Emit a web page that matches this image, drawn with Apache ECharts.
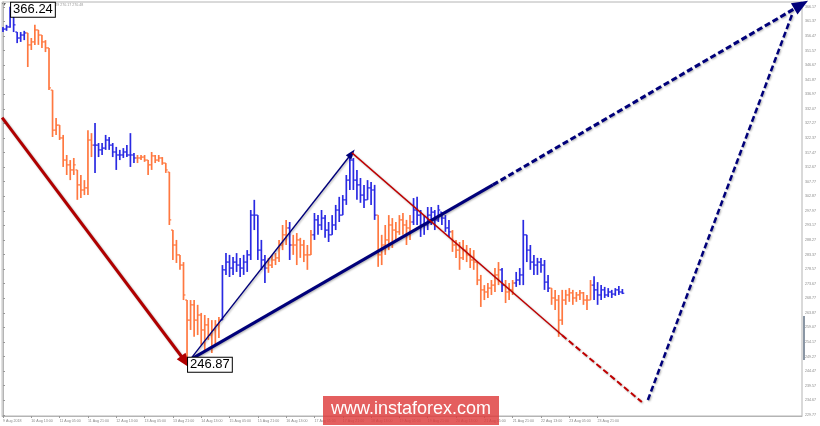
<!DOCTYPE html>
<html>
<head>
<meta charset="utf-8">
<script src="https://cdn.jsdelivr.net/npm/echarts@6/dist/echarts.min.js"></script>
<style>
html, body { margin: 0; padding: 0; background: #fff; }
#main { width: 820px; height: 426px; }
</style>
</head>
<body>
<div id="main"></div>
<script>
// 2-hour bars, hour offset from 9 Aug 2018 21:00
const highs = [
  359.5, 360.2, 366.24, 364.5, 357.8, 357.8, 358.2, 357.5, 355.8, 360.2,
  358.5, 356.8, 355.1, 352.5, 338.4, 329.1, 326.7, 323.4, 316.7, 315.0,
  315.7, 311.7, 310.0, 308.3, 325.0, 324.0, 327.4, 320.7, 320.7, 323.4,
  322.7, 320.7, 319.4, 318.4, 319.0, 320.0, 324.0, 317.4, 316.7, 316.7,
  316.7, 315.0, 317.7, 316.7, 316.7, 316.0, 314.0, 311.0, 291.6, 288.3,
  283.3, 280.9, 268.2, 268.2, 268.2, 266.6, 263.9, 263.2, 262.2, 261.5,
  261.5, 262.5, 279.9, 283.9, 283.3, 282.6, 283.9, 282.3, 283.3, 284.9,
  298.3, 301.7, 296.6, 288.3, 283.3, 282.3, 283.3, 283.9, 288.3, 293.3,
  295.0, 294.3, 290.0, 290.6, 289.0, 288.3, 286.6, 291.6, 297.3, 296.6,
  298.3, 296.6, 294.3, 296.6, 300.0, 302.7, 303.3, 310.0, 317.4, 315.7,
  311.7, 309.0, 306.7, 308.3, 307.7, 306.7, 296.6, 290.0, 293.3, 296.6,
  295.6, 294.3, 296.6, 297.3, 295.0, 296.6, 302.3, 302.7, 298.3, 296.6,
  299.3, 299.3, 298.3, 300.0, 297.6, 296.6, 295.0, 291.6, 288.3, 287.6,
  288.3, 286.6, 285.6, 284.9, 280.9, 276.6, 273.2, 273.9, 274.9, 278.9,
  280.9, 278.9, 274.9, 273.9, 274.9, 277.6, 278.9, 295.0, 290.0, 286.6,
  283.3, 282.3, 282.3, 281.6, 276.6, 272.2, 271.6, 269.9, 271.6, 271.6,
  272.2, 271.6, 270.9, 271.6, 270.9, 269.9, 274.9, 276.2, 274.2, 273.2,
  272.6, 272.2, 271.6, 272.2, 272.9, 271.9
];
const lows = [
  357.8, 358.2, 359.2, 357.8, 354.1, 354.5, 355.1, 346.1, 351.8, 353.5,
  353.5, 352.5, 351.1, 338.4, 322.7, 323.4, 321.7, 312.7, 310.0, 308.3,
  310.0, 301.7, 302.3, 303.3, 303.3, 316.0, 310.7, 316.0, 316.7, 318.4,
  318.4, 316.0, 311.7, 315.0, 315.7, 316.0, 312.7, 314.0, 314.0, 315.0,
  314.4, 310.0, 311.7, 314.0, 314.4, 313.4, 310.7, 293.3, 281.6, 280.6,
  278.3, 268.2, 246.87, 258.2, 255.9, 256.5, 253.2, 251.5, 254.9, 250.5,
  253.2, 255.5, 261.5, 276.6, 275.9, 276.6, 277.6, 275.9, 276.6, 277.6,
  281.6, 291.6, 281.6, 278.3, 273.9, 277.3, 278.9, 279.9, 280.9, 284.9,
  286.6, 281.6, 283.3, 279.9, 282.3, 280.9, 278.3, 283.3, 288.3, 290.0,
  291.6, 289.0, 287.6, 290.0, 291.6, 294.3, 296.6, 300.0, 305.0, 305.0,
  301.7, 300.7, 299.0, 301.7, 300.0, 295.0, 279.3, 279.9, 283.3, 284.9,
  285.6, 288.3, 290.0, 290.0, 286.6, 288.3, 293.3, 293.3, 289.3, 290.0,
  291.6, 293.3, 291.6, 294.3, 293.3, 291.0, 289.3, 284.3, 282.3, 278.3,
  281.6, 280.9, 278.9, 278.3, 273.2, 265.9, 268.2, 268.9, 269.9, 270.9,
  273.2, 270.9, 267.2, 268.2, 269.9, 272.6, 273.2, 273.2, 280.9, 278.3,
  276.6, 276.6, 277.3, 271.6, 270.9, 266.6, 264.9, 255.9, 259.9, 266.6,
  267.6, 266.6, 267.6, 268.2, 266.6, 264.9, 268.2, 268.2, 266.6, 268.2,
  268.9, 269.2, 268.9, 269.6, 269.9, 270.2
];
const closes = [
  358.8, 359.5, 364.5, 360.2, 355.8, 356.8, 357.5, 353.5, 354.5, 358.5,
  356.8, 354.5, 352.5, 339.1, 325.0, 326.7, 322.4, 315.0, 313.4, 311.7,
  313.4, 306.7, 305.0, 305.7, 321.7, 320.0, 320.0, 318.4, 319.0, 321.7,
  320.0, 317.7, 316.7, 316.7, 317.7, 316.7, 316.7, 315.7, 315.7, 316.0,
  315.0, 313.4, 316.4, 315.0, 315.7, 314.0, 311.7, 295.0, 286.6, 283.3,
  279.9, 269.9, 261.5, 266.6, 261.5, 263.2, 258.2, 259.9, 256.5, 258.2,
  259.9, 261.5, 278.3, 280.9, 278.9, 280.9, 279.9, 278.9, 280.9, 283.3,
  296.6, 296.6, 284.9, 281.6, 278.9, 279.9, 281.6, 282.3, 286.6, 290.0,
  292.3, 286.6, 286.6, 288.3, 286.6, 283.3, 283.3, 290.0, 295.0, 293.3,
  295.6, 291.6, 290.0, 293.3, 298.3, 296.6, 301.7, 308.3, 315.0, 308.3,
  306.7, 303.3, 301.7, 305.7, 305.0, 296.6, 283.3, 286.6, 288.3, 293.3,
  291.6, 291.0, 295.0, 293.3, 292.3, 294.3, 298.3, 296.6, 293.3, 293.3,
  296.6, 297.6, 295.0, 298.3, 295.6, 292.3, 291.0, 286.6, 284.9, 282.3,
  284.9, 283.3, 281.6, 280.9, 274.9, 271.6, 270.9, 272.2, 273.2, 276.6,
  278.3, 273.2, 270.9, 271.6, 273.9, 274.9, 276.6, 290.0, 284.9, 280.9,
  279.9, 280.9, 279.9, 274.2, 272.2, 268.9, 268.2, 261.5, 268.2, 269.9,
  270.6, 268.9, 269.9, 270.6, 268.2, 268.2, 273.2, 271.6, 269.9, 271.6,
  269.9, 270.9, 270.2, 271.6, 270.9, 270.48
];
// last bar index of each coloured wave leg, starting with an up (blue) leg
const legEnds = [6, 25, 37, 61, 74, 80, 81, 87, 105, 115, 126, 140, 141, 144, 154, 166, 175];

const timeLabels = [
  '9 Aug 2018', '10 Aug 13:00', '11 Aug 05:00', '11 Aug 21:00', '12 Aug 13:00',
  '13 Aug 05:00', '13 Aug 21:00', '14 Aug 13:00', '15 Aug 05:00', '15 Aug 21:00',
  '16 Aug 13:00', '17 Aug 05:00', '17 Aug 21:00', '18 Aug 13:00', '19 Aug 05:00',
  '19 Aug 21:00', '20 Aug 13:00', '21 Aug 05:00', '21 Aug 21:00', '22 Aug 13:00',
  '23 Aug 05:00', '23 Aug 21:00'
];
const priceTicks = [
  366.17, 361.37, 356.47, 351.57, 346.67, 341.87, 336.97, 332.07, 327.27, 322.37,
  317.47, 312.67, 307.77, 302.87, 297.97, 293.17, 288.27, 283.37, 278.57, 273.67,
  268.77, 263.87, 259.07, 254.17, 249.27, 244.47, 239.57, 234.67, 229.77
];

// wave markup: [hourFrom, priceFrom, hourTo, priceTo]
const waveA = [-0.5, 329.2, 103.2, 247.5];
const waveB = [105.6, 248.2, 197.0, 317.2];
const trendSolid = [105.6, 248.2, 276.8, 306.7];
const trendDashed = [276.8, 306.7, 451.0, 366.9];
const fallSolid = [197.2, 317.4, 315.8, 256.5];
const fallDashed = [315.8, 256.5, 361.0, 234.1];
const riseDashed = [364.4, 234.8, 445.8, 363.5];

const highLabel = 366.24;
const lowLabel = 246.87;
const lastPrice = 270.48;

const BLUE = '#2a2ae2';
const ORANGE = '#ff7840';
const HOURS_PER_BAR = 2;
const HOURS_PER_LABEL = 16;

const barColors = [];
let leg = 0;
for (let i = 0; i < closes.length; i++) {
  if (i > legEnds[leg]) leg++;
  barColors.push(leg % 2 === 0 ? BLUE : ORANGE);
}

const ohlc = closes.map((c, i) => {
  let o = i === 0 ? closes[0] : closes[i - 1];
  o = Math.min(highs[i], Math.max(lows[i], o));
  return [i * HOURS_PER_BAR, o, c, lows[i], highs[i]];
});
const highIdx = highs.indexOf(highLabel);
const lowIdx = lows.indexOf(lowLabel);

function waveLine(seg, color, width, dashed, head) {
  return {
    type: 'line',
    data: [],
    silent: true,
    markLine: {
      silent: true,
      animation: false,
      symbol: ['none', head ? 'triangle' : 'none'],
      symbolSize: head || 0,
      label: { show: false },
      emphasis: { disabled: true },
      lineStyle: {
        color: color,
        width: width,
        type: dashed ? [6, 3] : 'solid',
        opacity: 1,
        shadowColor: 'rgba(0,0,0,0.3)',
        shadowBlur: 2,
        shadowOffsetX: 1,
        shadowOffsetY: 1
      },
      data: [[{ coord: [seg[0], seg[1]] }, { coord: [seg[2], seg[3]] }]]
    }
  };
}

const boxLabel = {
  show: true,
  position: 'right',
  distance: 1,
  color: '#000',
  fontSize: 13,
  fontFamily: 'Liberation Sans, Arial',
  backgroundColor: '#fff',
  borderColor: '#000',
  borderWidth: 1,
  padding: [1, 2, 0, 2]
};

const chart = echarts.init(document.getElementById('main'));
chart.setOption({
  animation: false,
  backgroundColor: '#fff',
  grid: { left: 2, right: 18, top: 2, bottom: 10, show: true, borderColor: '#b4b4b4', borderWidth: 1 },
  xAxis: {
    type: 'value',
    min: -0.5,
    max: 451.5,
    splitLine: { show: false },
    axisLine: { show: true, lineStyle: { color: '#b4b4b4' } },
    axisTick: {
      show: true, length: 2, lineStyle: { color: '#999' },
      customValues: timeLabels.map((t, i) => i * HOURS_PER_LABEL)
    },
    axisLabel: {
      customValues: timeLabels.map((t, i) => i * HOURS_PER_LABEL),
      formatter: v => timeLabels[Math.round(v / HOURS_PER_LABEL)],
      fontSize: 3.6, color: '#888', margin: 3, align: 'left',
      fontFamily: 'Liberation Sans, Arial'
    }
  },
  yAxis: {
    type: 'value',
    position: 'right',
    min: 229.44,
    max: 367.84,
    splitLine: { show: false },
    axisLine: { show: true, lineStyle: { color: '#b4b4b4' } },
    axisTick: { show: true, length: 2, lineStyle: { color: '#999' }, customValues: priceTicks },
    axisLabel: {
      customValues: priceTicks,
      formatter: v => v.toFixed(2),
      fontSize: 3.6, color: '#888', margin: 3,
      fontFamily: 'Liberation Sans, Arial'
    }
  },
  series: [
    {
      type: 'custom',
      data: ohlc,
      clip: true,
      renderItem: function (params, api) {
        const x = api.value(0);
        const pO = api.coord([x, api.value(1)]);
        const pC = api.coord([x, api.value(2)]);
        const pL = api.coord([x, api.value(3)]);
        const pH = api.coord([x, api.value(4)]);
        const color = barColors[params.dataIndex];
        return {
          type: 'group',
          children: [
            { type: 'line', shape: { x1: pH[0], y1: pH[1], x2: pL[0], y2: pL[1] }, style: { stroke: color, lineWidth: 1.7 } },
            { type: 'line', shape: { x1: pO[0] - 1.9, y1: pO[1], x2: pO[0], y2: pO[1] }, style: { stroke: color, lineWidth: 1.2 } },
            { type: 'line', shape: { x1: pC[0], y1: pC[1], x2: pC[0] + 1.9, y2: pC[1] }, style: { stroke: color, lineWidth: 1.2 } }
          ]
        };
      },
      markPoint: {
        silent: true,
        symbol: 'rect',
        symbolSize: 0,
        data: [
          { coord: [highIdx * HOURS_PER_BAR, highLabel], label: Object.assign({}, boxLabel, { formatter: highLabel.toFixed(2), offset: [0, 3] }) },
          { coord: [lowIdx * HOURS_PER_BAR, lowLabel], label: Object.assign({}, boxLabel, { formatter: lowLabel.toFixed(2), offset: [0, 1] }) }
        ]
      },
      markLine: {
        silent: true,
        symbol: 'none',
        lineStyle: { opacity: 0 },
        label: {
          position: 'end', distance: 1, formatter: lastPrice.toFixed(2),
          backgroundColor: '#3f5166', color: '#fff', fontSize: 3.8, padding: [1, 1],
          fontFamily: 'Liberation Sans, Arial'
        },
        data: [{ yAxis: lastPrice }]
      }
    },
    waveLine(waveA, '#b00000', 3, false, [11, 15]),
    waveLine(waveB, '#00007a', 1.4, false, [7, 10]),
    waveLine(trendSolid, '#00007a', 3, false, 0),
    waveLine(trendDashed, '#00007a', 3, true, [13, 16]),
    waveLine(fallSolid, '#c00000', 1.4, false, 0),
    waveLine(fallDashed, '#c00000', 2, true, 0),
    waveLine(riseDashed, '#00007a', 2.5, true, 0)
  ],
  graphic: [
    { type: 'polygon', shape: { points: [[2, 3], [6, 3], [4, 6]] }, style: { fill: '#666' } },
    { type: 'text', left: 14, top: 3, style: { text: 'ETHUSD,H1  270.27 270.29 270.17 270.48', fill: '#999', font: '3.6px "Liberation Sans", Arial' }, z: 0 },
    { type: 'rect', left: 803, top: 316, shape: { width: 2, height: 44 }, style: { fill: '#8a96a4' } },
    { type: 'rect', left: 323, top: 396, shape: { width: 176, height: 29 }, style: { fill: 'rgba(222,60,60,0.82)' }, z: 100 },
    { type: 'text', left: 331, top: 400, style: { text: 'www.instaforex.com', fill: '#fff', font: '18px "Liberation Sans", Arial' }, z: 101 }
  ]
});
</script>
</body>
</html>
